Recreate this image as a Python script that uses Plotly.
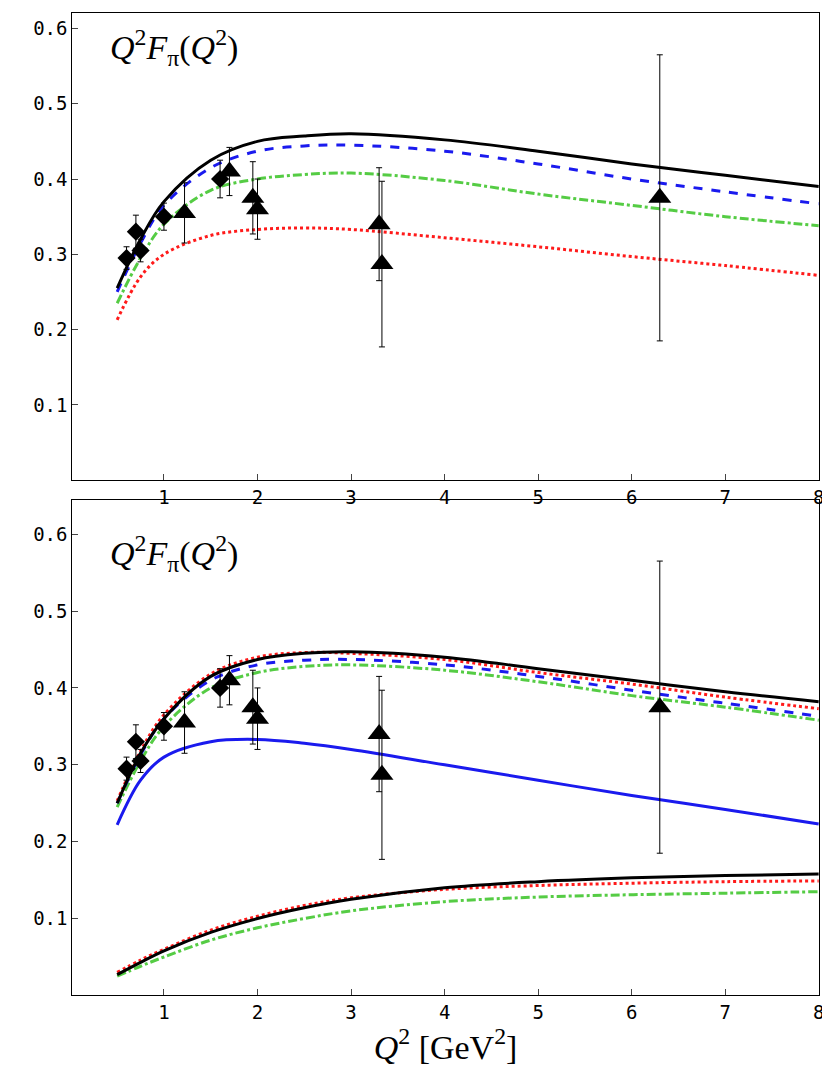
import plotly.graph_objects as go

# data points (shared by both panels)
dia_x = [0.6, 0.7, 0.75, 1.0, 1.6]
dia_y = [0.295, 0.33, 0.305, 0.35, 0.40]
dia_e = [0.015, 0.022, 0.015, 0.018, 0.025]
tri_x = [1.22, 1.7, 1.95, 2.0, 3.3, 3.33, 6.3]
tri_y = [0.355, 0.41, 0.375, 0.36, 0.34, 0.287, 0.375]
tri_e = [0.04, 0.032, 0.048, 0.04, 0.075, 0.11, 0.19]

qx = [0.5, 0.75, 1, 1.5, 2, 2.5, 3, 4, 5, 6, 7, 8]

# top panel curves
top_black = [0.255, 0.32, 0.37, 0.425, 0.45, 0.457, 0.46, 0.452, 0.437, 0.42, 0.405, 0.39]
top_blue = [0.25, 0.315, 0.365, 0.415, 0.437, 0.444, 0.445, 0.437, 0.42, 0.40, 0.383, 0.367]
top_green = [0.235, 0.295, 0.34, 0.385, 0.40, 0.406, 0.408, 0.398, 0.38, 0.365, 0.35, 0.338]
top_red = [0.213, 0.27, 0.30, 0.325, 0.333, 0.335, 0.333, 0.322, 0.31, 0.297, 0.285, 0.272]

# bottom panel curves
bot_black = [0.25, 0.315, 0.36, 0.415, 0.437, 0.445, 0.447, 0.44, 0.425, 0.41, 0.395, 0.382]
bot_red = [0.253, 0.318, 0.365, 0.418, 0.44, 0.446, 0.445, 0.437, 0.42, 0.405, 0.388, 0.373]
bot_blue = [0.25, 0.313, 0.36, 0.41, 0.43, 0.436, 0.437, 0.43, 0.415, 0.397, 0.38, 0.363]
bot_green = [0.245, 0.305, 0.35, 0.40, 0.42, 0.428, 0.43, 0.423, 0.408, 0.39, 0.375, 0.358]
bot_blue_solid = [0.222, 0.28, 0.31, 0.33, 0.333, 0.328, 0.32, 0.30, 0.28, 0.26, 0.242, 0.223]
low_black = [0.027, 0.043, 0.058, 0.082, 0.10, 0.114, 0.125, 0.14, 0.148, 0.153, 0.156, 0.158]
low_red = [0.03, 0.046, 0.06, 0.085, 0.103, 0.117, 0.127, 0.138, 0.143, 0.146, 0.148, 0.149]
low_green = [0.025, 0.038, 0.05, 0.072, 0.088, 0.10, 0.11, 0.122, 0.128, 0.131, 0.133, 0.135]

fig = go.Figure()

def curve(y, color, dash, ax):
    fig.add_trace(go.Scatter(x=qx, y=y, mode="lines", line=dict(color=color, dash=dash, width=3, shape="spline"),
                             xaxis=ax[0], yaxis=ax[1], showlegend=False))

def points(ax):
    fig.add_trace(go.Scatter(x=dia_x, y=dia_y, mode="markers", marker=dict(symbol="diamond", size=14, color="black"),
                             error_y=dict(array=dia_e, color="black", thickness=1, width=3),
                             xaxis=ax[0], yaxis=ax[1], showlegend=False))
    fig.add_trace(go.Scatter(x=tri_x, y=tri_y, mode="markers", marker=dict(symbol="triangle-up", size=20, color="black"),
                             error_y=dict(array=tri_e, color="black", thickness=1, width=3),
                             xaxis=ax[0], yaxis=ax[1], showlegend=False))

top = ("x", "y")
bot = ("x2", "y2")
curve(top_red, "#ff1a1a", "dot", top)
curve(top_green, "#55cc44", "dashdot", top)
curve(top_blue, "#1a1aee", "dash", top)
curve(top_black, "black", "solid", top)
points(top)

curve(bot_blue_solid, "#1a1aee", "solid", bot)
curve(low_green, "#55cc44", "dashdot", bot)
curve(low_red, "#ff1a1a", "dot", bot)
curve(low_black, "black", "solid", bot)
curve(bot_green, "#55cc44", "dashdot", bot)
curve(bot_blue, "#1a1aee", "dash", bot)
curve(bot_red, "#ff1a1a", "dot", bot)
curve(bot_black, "black", "solid", bot)
points(bot)

axis_style = dict(showline=True, linecolor="black", linewidth=1, mirror=True, ticks="inside", ticklen=6,
                  showgrid=False, zeroline=False, tickfont=dict(family="DejaVu Sans Mono", size=19, color="black"))
xt = dict(tickvals=[1, 2, 3, 4, 5, 6, 7, 8], range=[0.02, 8])
yt = dict(tickvals=[0.1, 0.2, 0.3, 0.4, 0.5, 0.6])

fig.update_layout(
    width=830, height=1078, margin=dict(l=0, r=0, t=0, b=0),
    plot_bgcolor="white", paper_bgcolor="white",
    xaxis=dict(domain=[0.078, 0.984], anchor="y", **xt, **axis_style),
    yaxis=dict(domain=[0.562, 0.995], anchor="x", range=[0, 0.62], **yt, **axis_style),
    xaxis2=dict(domain=[0.078, 0.984], anchor="y2", **xt, **axis_style,
                title=dict(text="<i>Q</i><sup>2</sup> [GeV<sup>2</sup>]", font=dict(family="Liberation Serif", size=34, color="black"), standoff=6)),
    yaxis2=dict(domain=[0.084, 0.544], anchor="x2", range=[0.0, 0.645], **yt, **axis_style),
    annotations=[
        dict(text="<i>Q</i><sup>2</sup><i>F</i><sub>π</sub>(<i>Q</i><sup>2</sup>)", x=0.4, y=0.575, xref="x", yref="y",
             xanchor="left", yanchor="middle", showarrow=False, font=dict(family="Liberation Serif", size=34, color="black")),
        dict(text="<i>Q</i><sup>2</sup><i>F</i><sub>π</sub>(<i>Q</i><sup>2</sup>)", x=0.4, y=0.575, xref="x2", yref="y2",
             xanchor="left", yanchor="middle", showarrow=False, font=dict(family="Liberation Serif", size=34, color="black")),
    ],
)

fig.write_html("out.html")
